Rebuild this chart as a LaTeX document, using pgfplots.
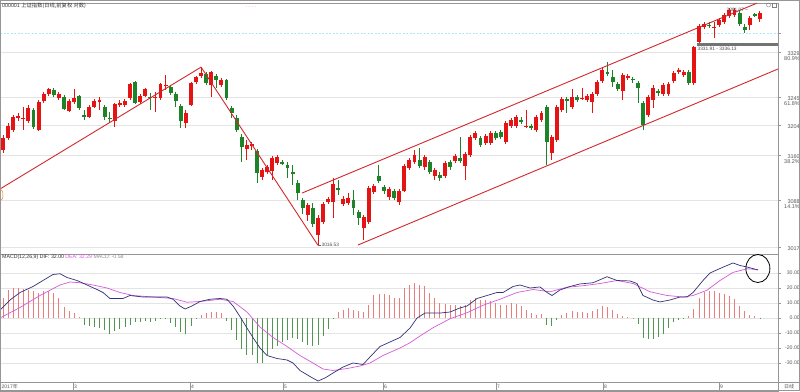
\documentclass[border=0pt]{standalone}
\usepackage{fontspec}
\setmainfont{Liberation Sans}
\newfontfamily\cjk{Noto Sans CJK SC}
\usepackage{pgfplots}
\pgfplotsset{compat=1.18}
\usepackage{pgfplotstable}

\definecolor{upred}{RGB}{228,20,20}
\definecolor{dngreen}{RGB}{30,130,40}
\definecolor{trend}{RGB}{210,40,45}
\definecolor{difc}{RGB}{50,50,120}
\definecolor{deac}{RGB}{215,90,215}
\definecolor{hred}{RGB}{232,125,125}
\definecolor{hgreen}{RGB}{80,150,80}
\definecolor{gridc}{RGB}{228,228,228}
\definecolor{framec}{RGB}{150,150,150}
\definecolor{labc}{RGB}{90,90,90}

\pgfplotstableread{
i o h l c
0 3167 3191 3162 3186
1 3186 3210 3183 3205
2 3199 3222 3195 3219
3 3218 3225 3213 3221
4 3216 3235 3199 3218
5 3213 3238 3210 3233
6 3230 3233 3200 3203
7 3199 3246 3197 3243
8 3244 3259 3241 3255
9 3255 3265 3252 3263
10 3262 3265 3251 3254
11 3249 3259 3246 3255
12 3251 3254 3230 3232
13 3229 3248 3227 3244
14 3243 3263 3240 3249
15 3252 3254 3230 3233
16 3222 3230 3214 3221
17 3219 3238 3218 3235
18 3235 3248 3233 3244
19 3244 3251 3230 3246
20 3235 3238 3214 3219
21 3218 3227 3210 3217
22 3213 3241 3203 3240
23 3238 3246 3235 3241
24 3238 3248 3235 3244
25 3249 3273 3246 3271
26 3274 3276 3240 3241
27 3243 3255 3240 3252
28 3252 3265 3251 3263
29 3251 3257 3230 3249
30 3249 3259 3227 3251
31 3249 3273 3246 3271
32 3269 3286 3262 3270
33 3267 3270 3254 3257
34 3255 3259 3235 3244
35 3237 3240 3202 3213
36 3210 3230 3202 3225
37 3238 3274 3237 3273
38 3274 3284 3271 3282
39 3284 3297 3281 3289
40 3287 3290 3270 3273
41 3270 3292 3251 3290
42 3284 3287 3265 3278
43 3270 3281 3267 3278
44 3278 3279 3246 3249
45 3233 3237 3218 3225
46 3218 3222 3195 3199
47 3188 3192 3148 3172
48 3169 3183 3151 3175
49 3173 3180 3167 3177
50 3165 3169 3115 3131
51 3124 3139 3120 3135
52 3132 3143 3129 3140
53 3134 3158 3120 3154
54 3146 3159 3143 3156
55 3148 3151 3143 3146
56 3143 3148 3123 3139
57 3132 3143 3112 3130
58 3115 3120 3088 3099
59 3088 3091 3066 3075
60 3064 3083 3055 3080
61 3075 3083 3045 3050
62 3033 3064 3016.53 3060
63 3053 3085 3050 3082
64 3085 3093 3082 3090
65 3085 3123 3060 3113
66 3107 3120 3096 3104
67 3082 3094 3079 3090
68 3083 3099 3080 3091
69 3088 3104 3064 3075
70 3069 3072 3049 3060
71 3044 3064 3025 3061
72 3053 3110 3050 3107
73 3101 3113 3097 3110
74 3126 3143 3115 3118
75 3109 3112 3097 3102
76 3093 3109 3088 3105
77 3102 3105 3088 3091
78 3085 3105 3080 3102
79 3102 3145 3101 3142
80 3139 3154 3135 3151
81 3148 3167 3145 3159
82 3151 3170 3139 3142
83 3140 3159 3135 3156
84 3148 3151 3129 3132
85 3126 3139 3120 3135
86 3128 3132 3118 3123
87 3126 3150 3123 3146
88 3148 3151 3135 3140
89 3150 3161 3146 3158
90 3154 3188 3146 3150
91 3142 3164 3120 3161
92 3159 3191 3156 3188
93 3186 3197 3183 3194
94 3186 3189 3172 3175
95 3178 3192 3175 3189
96 3178 3197 3175 3194
97 3194 3197 3183 3186
98 3195 3199 3184 3188
99 3180 3213 3177 3210
100 3205 3218 3202 3214
101 3205 3222 3202 3219
102 3214 3219 3208 3213
103 3204 3230 3202 3205
104 3205 3208 3199 3202
105 3199 3222 3195 3219
106 3214 3229 3211 3225
107 3235 3238 3143 3180
108 3162 3191 3151 3188
109 3183 3238 3180 3235
110 3230 3251 3227 3248
111 3247 3251 3225 3245
112 3235 3263 3232 3251
113 3251 3254 3243 3246
114 3248 3265 3246 3249
115 3246 3255 3243 3252
116 3243 3259 3225 3255
117 3255 3278 3252 3274
118 3276 3298 3273 3293
119 3290 3306 3284 3287
120 3282 3293 3267 3274
121 3271 3274 3260 3263
122 3260 3289 3246 3286
123 3281 3287 3278 3284
124 3279 3282 3273 3278
125 3273 3276 3241 3265
126 3241 3244 3199 3206
127 3222 3254 3219 3251
128 3246 3270 3233 3265
129 3260 3263 3252 3258
130 3255 3273 3252 3270
131 3255 3274 3252 3271
132 3276 3292 3273 3289
133 3290 3297 3287 3293
134 3286 3293 3282 3290
135 3290 3293 3270 3273
136 3273 3331.91 3270 3330
137 3338 3366 3336.13 3363
138 3361 3369 3358 3366
139 3365 3369 3360 3364
140 3361 3369 3344 3362
141 3364 3376 3361 3372
142 3369 3383 3366 3380
143 3379 3391 3376 3388
144 3380 3391.07 3377 3389
145 3383 3387 3363 3366
146 3362 3366 3352 3357
147 3364 3379 3357 3376
148 3382 3383 3377 3380
149 3374 3387 3369 3383
}\candles

\pgfplotstableread{
i m
0 13.3
1 18.9
2 20
3 20
4 19.3
5 18.9
6 17.8
7 16.7
8 17.8
9 17.8
10 16.7
11 13.3
12 7.3
13 4.9
14 3.3
15 0.5
16 -4.4
17 -5.6
18 -6
19 -6.7
20 -7.8
21 -10.4
22 -8.9
23 -7.3
24 -6
25 -4.4
26 -2.9
27 -2.9
28 -2.2
29 -2.9
30 -2.2
31 -0.7
32 -0.3
33 -3.3
34 -6
35 -9.6
36 -10.4
37 -5.6
38 -0.7
39 2.2
40 3.3
41 4
42 4
43 3.3
44 -2.2
45 -7.8
46 -14.4
47 -21
48 -25
49 -25
50 -30
51 -30
52 -24.4
53 -21
54 -19
55 -16
56 -14.4
57 -13.3
58 -14
59 -16
60 -17.8
61 -19
62 -17.8
63 -11.8
64 -7.3
65 -1
66 3.8
67 5.6
68 6.7
69 5.6
70 4.4
71 3.8
72 8.9
73 15.6
74 16.2
75 16.2
76 15.6
77 13.3
78 13.3
79 20
80 22
81 23.3
82 22
83 21
84 16.7
85 13.3
86 10
87 9.6
88 8.9
89 8.9
90 7.8
91 8.9
92 12.2
93 13.3
94 12.2
95 11.8
96 11.1
97 10
98 8.9
99 8.9
100 10
101 9.6
102 8.2
103 5.6
104 3.3
105 2.2
106 2.9
107 -4.4
108 -5.6
109 -1.6
110 1.8
111 3.3
112 4.9
113 4.2
114 4.2
115 3.3
116 4.4
117 6
118 7.8
119 7.3
120 5.6
121 2.7
122 1.6
123 0.4
124 0.1
125 -3.8
126 -13.3
127 -14
128 -14
129 -12.7
130 -11
131 -6.7
132 -2.9
133 -1.1
134 -0.3
135 1.1
136 6
137 13.3
138 17.1
139 17.8
140 17.8
141 16.7
142 16
143 14.9
144 12.7
145 8.2
146 4.4
147 2.2
148 1.1
149 -0.58
}\hist

\pgfplotstableread{
i v
-0.59 5.3
1.38 12
3.35 17
5.91 21
7.87 25
9.84 29
11.22 29.5
12.60 27
14.57 25
16.54 22
18.50 19
19.69 17
21.06 13
23.62 13
25.00 15
27.56 14
29.53 14
32.28 14
33.46 12.5
34.84 8
35.83 6
37.20 8
38.78 11
40.75 12.5
42.72 13
44.09 12.5
45.28 8
46.65 1
48.03 -6.7
49.21 -13
50.59 -20
51.97 -25
53.94 -27
55.91 -28
57.09 -30
58.46 -35
60.43 -39
62.01 -42
63.39 -40
64.96 -36.7
66.93 -32.7
68.90 -30
70.87 -31
72.24 -26
74.21 -19
76.18 -16
78.15 -13
80.12 -6.7
81.50 0
83.07 3.3
86.02 3.3
87.99 4
89.96 6.7
91.34 8
93.31 13
95.28 15
97.24 17
98.43 17
100.39 21
101.77 22
103.74 20
105.71 20.7
107.09 17
108.07 15
109.65 18.7
111.61 21
113.58 22.7
116.14 23.5
118.90 27.5
120.87 25
123.43 24.7
124.80 23
125.98 15
127.95 12
129.33 10.7
131.30 12
133.27 14
134.65 14
135.83 17
137.80 25
139.17 30
141.14 33
143.70 36.7
145.08 35
146.46 34
148.62 32
}\dif

\pgfplotstableread{
i v
-0.59 0
3.35 7
7.28 15
11.22 22
13.19 24
15.16 23.5
17.72 22
20.47 20
23.03 17
25.59 15
29.53 14
33.46 13
36.22 10.5
38.78 11
42.72 12.5
45.28 11
48.03 4
50.59 -6
53.15 -13
55.91 -19
58.46 -25
61.02 -30
62.99 -34
64.96 -35
67.72 -33.7
70.28 -32
72.24 -30
74.80 -25
78.15 -20
80.12 -16.5
82.09 -12
84.65 -6.5
87.99 -0.5
91.34 3.5
94.49 8.5
97.83 12.5
101.18 17
104.33 19
107.68 17.5
111.02 20.5
114.17 21.5
117.52 23
120.87 25
124.02 23
127.36 17.5
130.71 15
133.86 14
135.83 15
138.58 18.5
141.14 25
143.70 30.4
146.46 32.8
148.62 32.3
}\dea

\begin{document}
\begin{tikzpicture}
\path[use as bounding box] (0pt,0pt) rectangle (800pt,391pt);
\fill[white] (0pt,0pt) rectangle (800pt,391pt);

% ---------------- price panel ----------------
\begin{axis}[
  at={(0pt,137pt)}, anchor=south west, scale only axis,
  width=778pt, height=251pt,
  xmin=-0.59, xmax=152.56, ymin=3002.7, ymax=3399.3,
  axis line style={framec},
  xtick=\empty,
  ytick={3013.7,3088,3159.1,3206.5,3250.7,3321.8},
  yticklabels={3017,{3088\\14.1\%},{3160\\38.2\%},3204,{3245\\61.8\%},{3329\\80.9\%}},
  ytick pos=right, yticklabel pos=right,
  tick align=outside, major tick length=3pt,
  tick style={framec, line width=0.5pt},
  ymajorgrids, grid style={gridc, line width=0.6pt},
  yticklabel style={font=\fontsize{5.5}{5.8}\selectfont, text=labc, align=right,
     anchor=north east, xshift=19pt, yshift=1pt, inner sep=0pt},
  extra y ticks={3352}, extra y tick labels={},
  extra y tick style={grid style={cyan!30, dash pattern=on 2pt off 1.5pt}},
  clip=false,
]
% wicks
\addplot[draw=none, mark=none,
  restrict expr to domain={\thisrow{c}-\thisrow{o}}{0:100000},
  error bars/.cd, y dir=both, y explicit, error mark=none,
  error bar style={draw=upred, line width=0.9pt}]
  table[x=i, y expr={(\thisrow{h}+\thisrow{l})/2}, y error expr={(\thisrow{h}-\thisrow{l})/2}] {\candles};
\addplot[draw=none, mark=none,
  restrict expr to domain={\thisrow{c}-\thisrow{o}}{-100000:-0.0001},
  error bars/.cd, y dir=both, y explicit, error mark=none,
  error bar style={draw=dngreen, line width=0.9pt}]
  table[x=i, y expr={(\thisrow{h}+\thisrow{l})/2}, y error expr={(\thisrow{h}-\thisrow{l})/2}] {\candles};
% bodies
\addplot[draw=none, mark=none,
  restrict expr to domain={\thisrow{c}-\thisrow{o}}{0:100000},
  error bars/.cd, y dir=both, y explicit, error mark=none,
  error bar style={draw=upred, line width=3.9pt}]
  table[x=i, y expr={(\thisrow{o}+\thisrow{c})/2}, y error expr={max(abs(\thisrow{c}-\thisrow{o})/2,0.45)}] {\candles};
\addplot[draw=none, mark=none,
  restrict expr to domain={\thisrow{c}-\thisrow{o}}{-100000:-0.0001},
  error bars/.cd, y dir=both, y explicit, error mark=none,
  error bar style={draw=dngreen, line width=3.9pt}]
  table[x=i, y expr={(\thisrow{o}+\thisrow{c})/2}, y error expr={max(abs(\thisrow{c}-\thisrow{o})/2,0.45)}] {\candles};
% trend lines
\addplot[trend, line width=0.9pt] coordinates {(-0.59,3105.4) (39,3298)};
\addplot[trend, line width=0.9pt] coordinates {(39,3298) (62,3016.53)};
\addplot[trend, line width=0.9pt] coordinates {(58.86,3099) (148.4,3399)};
\addplot[trend, line width=0.9pt] coordinates {(69.88,3016.9) (152.56,3295)};
% gap band
\addplot[fill=black!55, draw=none] coordinates {(136.6,3331.91) (152.56,3331.91) (152.56,3336.13) (136.6,3336.13)} -- cycle;
\node[anchor=north west, inner sep=0pt, font=\fontsize{4.8}{5}\selectfont, text=black!70] at (axis cs:136.7,3329.5) {3331.91 - 3336.13};
\draw[black!60, line width=0.4pt] (axis cs:62,3016.53) -- ++(3pt,0pt) node[anchor=west, inner sep=0.5pt, font=\fontsize{4.8}{5}\selectfont, text=black!70] {3016.53};
\node[anchor=west, inner sep=0pt, font=\fontsize{4.8}{5}\selectfont, text=black!70] at (axis cs:142.4,3389) {3391.07 --};
\end{axis}

% ---------------- MACD panel ----------------
\begin{axis}[
  at={(0pt,9pt)}, anchor=south west, scale only axis,
  width=778pt, height=128pt,
  xmin=-0.59, xmax=152.56, ymin=-42.67, ymax=42.67,
  axis line style={framec},
  xtick=\empty,
  minor xtick={4.5,9.2,19.5,25,30.5,42,47.5,60.5,66,70,80.7,86.0,91.5,102.2,107.3,112.6,123.4,128.7,135.2,146.5},
  xtick pos=left, minor tick length=2pt,
  ytick={-30,-20,-10,0,10,20,30},
  yticklabels={-30.00,-20.00,-10.00,0.00,10.00,20.00,30.00},
  ytick pos=right, yticklabel pos=right,
  tick align=outside, major tick length=3pt,
  tick style={framec, line width=0.5pt},
  ymajorgrids, grid style={gridc, line width=0.6pt},
  yticklabel style={font=\fontsize{5.2}{5.5}\selectfont, text=labc, anchor=east, xshift=19pt, inner sep=0pt},
  clip=false,
]
\addplot[ycomb, draw=hred, line width=0.8pt, restrict y to domain=0:1000] table[x=i, y=m] {\hist};
\addplot[ycomb, draw=hgreen, line width=0.8pt, restrict y to domain=-1000:-0.0001] table[x=i, y=m] {\hist};
\addplot[deac, line width=0.7pt] table[x=i, y=v] {\dea};
\addplot[difc, line width=0.7pt] table[x=i, y=v] {\dif};
\draw[black, line width=0.8pt] (axis cs:148.6,33) ellipse [x radius=12pt, y radius=14pt];
\end{axis}

% ---------------- date strip ----------------
\begin{axis}[
  at={(0pt,0pt)}, anchor=south west, scale only axis,
  width=778pt, height=9pt,
  xmin=-0.59, xmax=152.56, ymin=0, ymax=1,
  axis line style={framec},
  ytick=\empty,
  xtick={13.78,36.81,55.12,74.80,97.05,118.11,140.94},
  xticklabels={3,4,5,6,7,8,9},
  xticklabel style={anchor=west, yshift=4.5pt, xshift=1pt, inner sep=0pt,
    font=\fontsize{5}{5}\selectfont, text=labc},
  xtick pos=left, tick align=inside, major tick length=9pt,
  tick style={framec, line width=0.5pt},
  clip=false,
]
\node[anchor=west, inner sep=0pt, font=\fontsize{5}{5}\selectfont, text=labc] at (axis cs:-0.3,0.5) {2017{\cjk 年}};
\end{axis}

% ---------------- decorations ----------------
\node[anchor=west, inner sep=0pt, font=\fontsize{5.3}{6}\selectfont, text=black!80] at (2pt,385pt) {000001 {\cjk 上证指数(日线,前复权 对数)}};
\node[anchor=west, inner sep=0pt, font=\fontsize{5.2}{6}\selectfont] at (2pt,133.5pt) {\textcolor{black!80}{MACD(12,26,9) DIF: 32.00} \textcolor{deac}{DEA: 32.29} \textcolor{black!45}{MACD: -0.58}};
\node[inner sep=0pt, font=\fontsize{5}{5}\selectfont, text=labc] at (789pt,4.5pt) {\cjk 日线};
\draw[framec, line width=0.5pt] (778pt,9pt) -- (800pt,9pt);
\draw[black!50, line width=0.4pt] (768.5pt,386pt) circle (2pt);
\draw[black!50, line width=0.4pt] (772.5pt,383.8pt) rectangle (776.5pt,387.8pt);
\node[inner sep=0pt, font=\fontsize{5}{5}\selectfont, text=red!35] at (251pt,383pt) {- - - -};
\draw[orange!70!brown, line width=0.5pt] (0pt,202pt) arc (90:-90:3pt and 6pt);
\draw[framec, line width=0.6pt] (0.3pt,0.3pt) rectangle (799.7pt,390.7pt);
\end{tikzpicture}
\end{document}
